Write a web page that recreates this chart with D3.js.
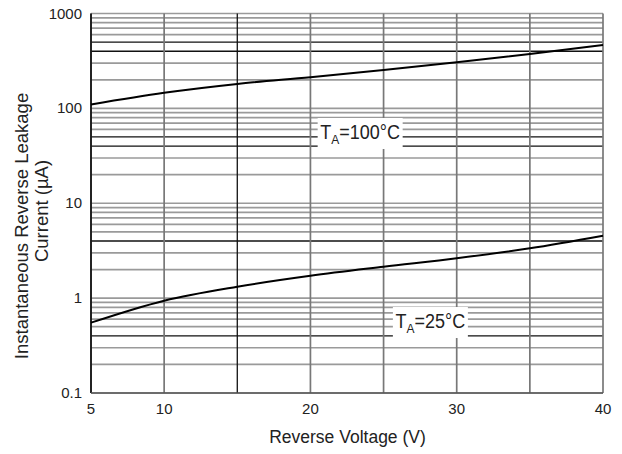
<!DOCTYPE html>
<html lang="en">
  <head>
    <meta charset="utf-8">
    <title>Reverse Leakage Current</title>
    <script src="https://d3js.org/d3.v7.min.js"></script>
    <style>
      body { margin: 0; background: #fff; }
      svg { display: block; font-family: "Liberation Sans", Arial, sans-serif; }
    </style>
  </head>
  <body>
  <script>
    // reverse voltage (V)
    let voltage = [5, 10, 15, 20, 25, 30, 35, 40]
    // leakage current (uA) at TA = 100 C and 25 C
    let current100 = [110, 146, 181, 213, 254, 306, 374, 466]
    let current25 = [0.551, 0.94, 1.32, 1.72, 2.14, 2.63, 3.35, 4.55]

    let xTickLabels = [5, 10, 20, 30, 40]
    let yTickLabels = [0.1, 1, 10, 100, 1000]
    // grid lines that are drawn darker on the original sheet
    let darkYLines = [500, 400, 50, 40, 4, 0.4]
    let darkXLines = [15]

    let width = 622
    let height = 454
    let margin = { top: 13.5, right: 19, bottom: 61, left: 91 }

    let svg = d3.select("body").append("svg")
        .attr("width", width)
        .attr("height", height)

    let x = d3.scaleLinear()
        .domain([5, 40])
        .range([margin.left, width - margin.right])

    let y = d3.scaleLog()
        .domain([0.1, 1000])
        .range([height - margin.bottom, margin.top])

    let isDark = d => darkYLines.some(v => Math.abs(v - d) < 1e-9)

    // horizontal grid
    svg.append("g")
      .selectAll("line")
      .data(y.ticks())
      .join("line")
      .attr("x1", x(5))
      .attr("x2", x(40))
      .attr("y1", d => y(d))
      .attr("y2", d => y(d))
      .style("stroke", d => isDark(d) ? "#111" : "#9a9a9a")
      .style("stroke-width", d => isDark(d) ? "1.3px" : "1.7px")

    // vertical grid
    svg.append("g")
      .selectAll("line")
      .data(x.ticks(7))
      .join("line")
      .attr("x1", d => x(d))
      .attr("x2", d => x(d))
      .attr("y1", y(1000))
      .attr("y2", y(0.1))
      .style("stroke", d => darkXLines.includes(d) ? "#111" : "#787878")
      .style("stroke-width", d => darkXLines.includes(d) ? "1.3px" : "1.7px")

    // frame
    svg.append("line")
      .attr("x1", x(5)).attr("x2", x(5))
      .attr("y1", y(1000)).attr("y2", y(0.1))
      .style("stroke", "#000")
      .style("stroke-width", "1.5px")
    svg.append("line")
      .attr("x1", x(5)).attr("x2", x(40))
      .attr("y1", y(0.1)).attr("y2", y(0.1))
      .style("stroke", "#555")
      .style("stroke-width", "1.5px")

    // curves
    let line = d3.line()
        .x(d => x(d[0]))
        .y(d => y(d[1]))
        .curve(d3.curveMonotoneX)

    let series = [
      { name: "100", values: voltage.map((v, i) => [v, current100[i]]) },
      { name: "25", values: voltage.map((v, i) => [v, current25[i]]) }
    ]

    svg.append("g")
      .selectAll("path")
      .data(series)
      .join("path")
      .attr("d", d => line(d.values))
      .style("fill", "none")
      .style("stroke", "#000")
      .style("stroke-width", "2px")

    // curve labels with white box behind
    let labels = [
      { temp: "100", vx: 23.4, vy: 55, w: 85 },
      { temp: "25", vx: 28.2, vy: 0.56, w: 75 }
    ]

    let lab = svg.append("g")
      .selectAll("g")
      .data(labels)
      .join("g")
      .attr("transform", d => `translate(${x(d.vx)},${y(d.vy)})`)

    lab.append("rect")
      .attr("x", d => -d.w / 2)
      .attr("y", -15)
      .attr("width", d => d.w)
      .attr("height", 31)
      .style("fill", "#fff")

    let labText = lab.append("text")
      .attr("text-anchor", "middle")
      .attr("y", 5)
      .attr("transform", "scale(1,1.12)")
      .style("font-size", "18px")
      .style("fill", "#222")

    labText.append("tspan").text("T")
    labText.append("tspan")
      .attr("dy", 5)
      .style("font-size", "12px")
      .text("A")
    labText.append("tspan")
      .attr("dy", -5)
      .text(d => "=" + d.temp + "°C")

    // tick labels
    svg.append("g")
      .selectAll("text")
      .data(xTickLabels)
      .join("text")
      .attr("x", d => x(d))
      .attr("y", y(0.1) + 21)
      .attr("text-anchor", "middle")
      .style("font-size", "15px")
      .style("fill", "#222")
      .text(d => d)

    svg.append("g")
      .selectAll("text")
      .data(yTickLabels)
      .join("text")
      .attr("x", x(5) - 9)
      .attr("y", d => y(d) + 5)
      .attr("text-anchor", "end")
      .style("font-size", "15px")
      .style("fill", "#222")
      .text(d => d)

    // axis titles
    svg.append("text")
      .attr("x", 347.5)
      .attr("y", 443)
      .attr("text-anchor", "middle")
      .style("font-size", "17.5px")
      .style("fill", "#222")
      .text("Reverse Voltage (V)")

    svg.append("text")
      .attr("transform", "translate(28,226) rotate(-90)")
      .attr("text-anchor", "middle")
      .style("font-size", "18.5px")
      .style("fill", "#222")
      .text("Instantaneous Reverse Leakage")

    svg.append("text")
      .attr("transform", "translate(48,211) rotate(-90)")
      .attr("text-anchor", "middle")
      .style("font-size", "18.5px")
      .style("fill", "#222")
      .text("Current (µA)")
  </script>
  </body>
</html>
